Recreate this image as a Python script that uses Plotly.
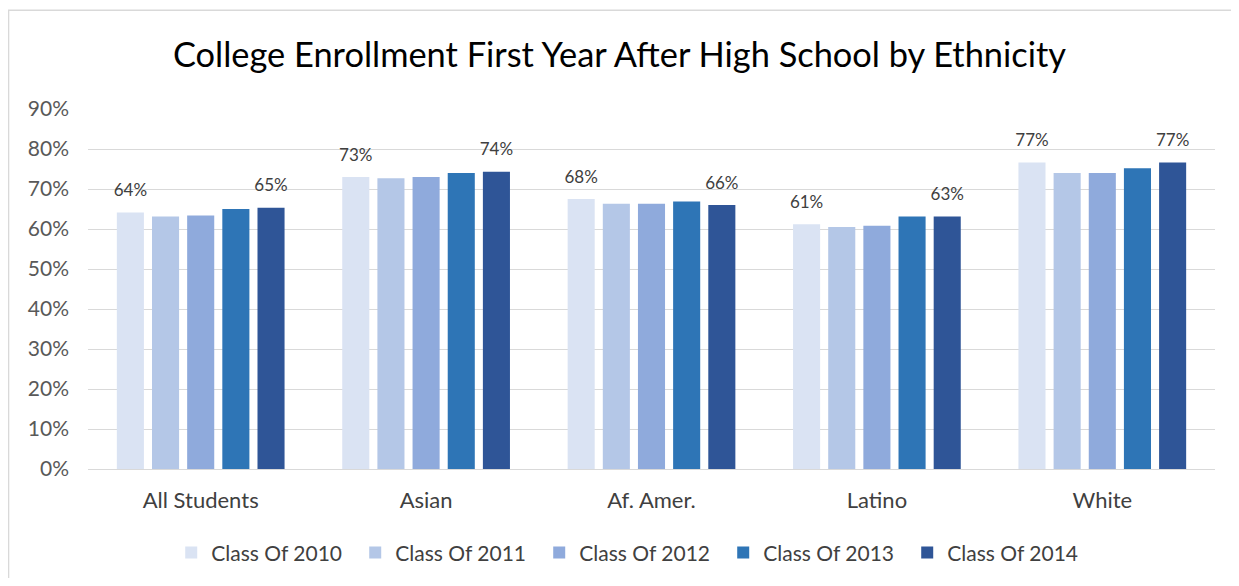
import plotly.graph_objects as go

categories = ["All Students", "Asian", "Af. Amer.", "Latino", "White"]
series_names = ["Class Of 2010", "Class Of 2011", "Class Of 2012", "Class Of 2013", "Class Of 2014"]
class_2010 = [0.641, 0.730, 0.675, 0.612, 0.766]
class_2011 = [0.631, 0.727, 0.663, 0.605, 0.740]
class_2012 = [0.634, 0.730, 0.663, 0.608, 0.740]
class_2013 = [0.650, 0.740, 0.669, 0.631, 0.752]
class_2014 = [0.653, 0.743, 0.660, 0.631, 0.766]
series_values = [class_2010, class_2011, class_2012, class_2013, class_2014]
colors = ["#DAE3F3", "#B4C7E7", "#8FAADC", "#2E75B6", "#2F5597"]
labeled = [True, False, False, False, True]

font_family = "Lato, 'Open Sans', sans-serif"

fig = go.Figure()
for i, (name, vals, col) in enumerate(zip(series_names, series_values, colors)):
    fig.add_trace(go.Bar(
        x=categories, y=vals, name=name,
        marker=dict(color=col, line=dict(width=0)),
        offsetgroup=str(i),
    ))
# data labels, grouped to sit over their bars
for i, (vals, lab) in enumerate(zip(series_values, labeled)):
    fig.add_trace(go.Scatter(
        x=categories, y=vals, mode="markers+text",
        text=[f"{round(v*100):.0f}%" for v in vals] if lab else [""] * len(vals),
        textposition="top center",
        textfont=dict(size=17, color="#404040", family=font_family),
        marker=dict(size=18, opacity=0),
        offsetgroup=str(i), showlegend=False, hoverinfo="skip",
        cliponaxis=False,
    ))

fig.update_layout(
    width=1223, height=570,
    margin=dict(l=80, r=16, t=101, b=109, autoexpand=False),
    paper_bgcolor="white", plot_bgcolor="white",
    barmode="group", bargap=0.22, bargroupgap=0.23,
    scattermode="group", scattergap=0.22,
    title=dict(text="College Enrollment First Year After High School by Ethnicity",
               x=0.5, xanchor="center", y=0.9175, yanchor="middle",
               font=dict(size=34.4, color="#000000", family=font_family)),
    font=dict(family=font_family, color="#595959", size=16),
    legend=dict(orientation="h", x=0.482, xanchor="center", y=-0.233, yanchor="middle",
                font=dict(size=21, color="#404040"), traceorder="normal",
                entrywidth=139, entrywidthmode="pixels", itemwidth=30),
    showlegend=True,
)
fig.update_xaxes(showline=True, linecolor="#D9D9D9", linewidth=1, ticks="",
                 tickfont=dict(size=22, color="#404040"), showgrid=False,
                 ticklabelstandoff=12)
fig.update_yaxes(range=[0, 0.9], dtick=0.1, tickformat=".0%", showgrid=True,
                 gridcolor="#D9D9D9", gridwidth=1, zeroline=False,
                 tickfont=dict(size=21, color="#595959"), ticks="",
                 ticklabelstandoff=18)
fig.add_shape(type="rect", xref="paper", yref="paper",
              x0=-0.0705, x1=1.03, y0=-0.4, y1=1.274,
              line=dict(color="#D9D9D9", width=1.5), fillcolor="rgba(0,0,0,0)", layer="below")

fig.write_html("out.html")
